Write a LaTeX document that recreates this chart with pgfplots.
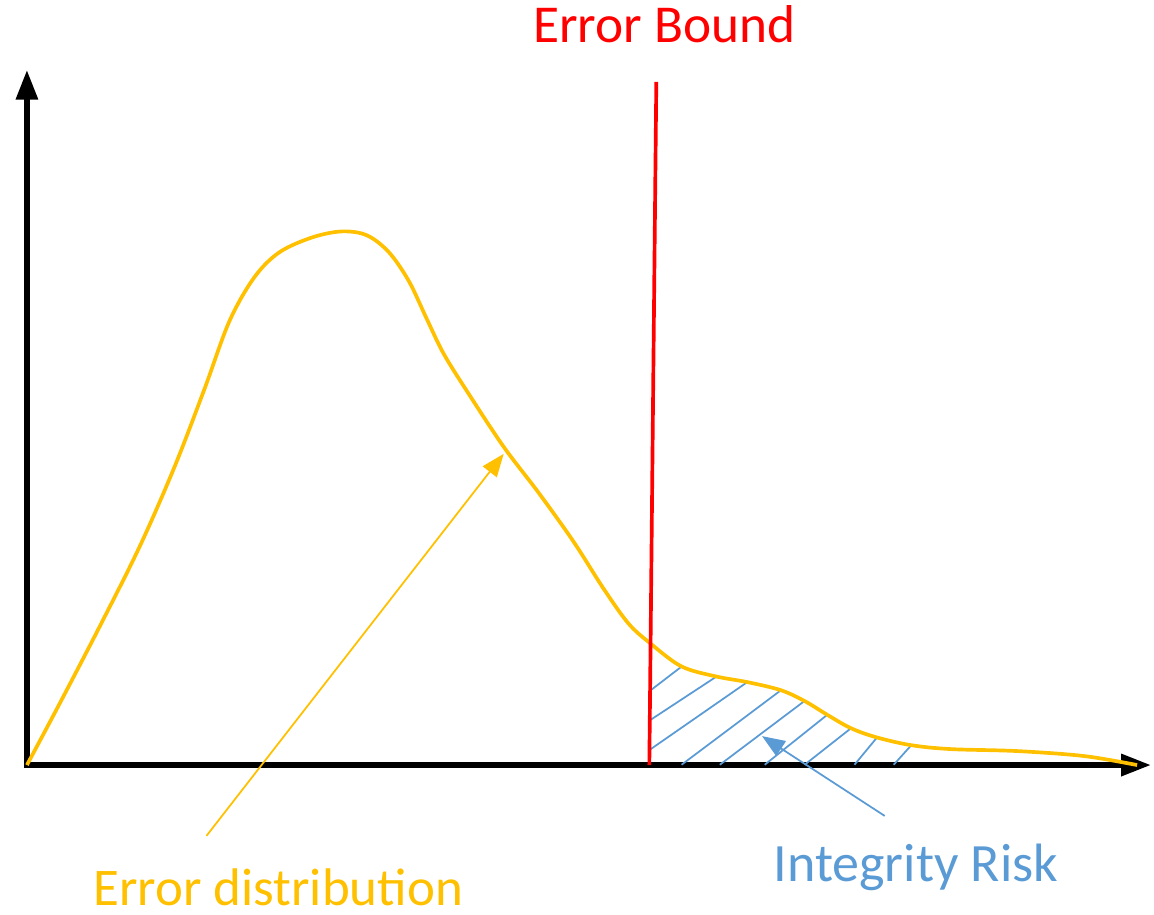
\documentclass[border=0pt]{standalone}
\usepackage{pgfplots}
\pgfplotsset{compat=1.18}
\usepackage{fontspec}
\setmainfont{Carlito}
\usetikzlibrary{arrows.meta}
\definecolor{gold}{HTML}{FFC000}
\definecolor{riskblue}{HTML}{5B9BD5}
\definecolor{boundred}{HTML}{FF0000}
\begin{document}
\begin{tikzpicture}
\begin{axis}[
  width=11.54cm, height=9.17cm, scale only axis,
  xmin=0, xmax=1154, ymin=0, ymax=917, y dir=reverse,
  hide axis, clip=false,
]
% invisible frame to fix the bounding box
\path (axis cs:0,0) rectangle (axis cs:1154,917);
% axes
\draw[line width=1.7pt, -{Triangle[length=8.5pt,width=6pt]}] (axis cs:27,767) -- (axis cs:27,70);
\draw[line width=1.7pt, -{Triangle[length=8.5pt,width=6pt]}] (axis cs:24,767) -- (axis cs:1154,767);
% hatch lines
\addplot[riskblue, line width=0.5pt] coordinates {(650.7,693.3) (683.3,668.3)};
\addplot[riskblue, line width=0.5pt] coordinates {(650.7,722.7) (718.3,678.3)};
\addplot[riskblue, line width=0.5pt] coordinates {(650,752.7) (750,683.3)};
\addplot[riskblue, line width=0.5pt] coordinates {(683.3,766.7) (783.3,691.7)};
\addplot[riskblue, line width=0.5pt] coordinates {(721.7,766.7) (806.7,702.7)};
\addplot[riskblue, line width=0.5pt] coordinates {(766.7,766.7) (829.3,716.7)};
\addplot[riskblue, line width=0.5pt] coordinates {(806.7,766.7) (853.3,730)};
\addplot[riskblue, line width=0.5pt] coordinates {(856.7,766.7) (879.3,739.3)};
\addplot[riskblue, line width=0.5pt] coordinates {(896,766.7) (914,746.7)};
% error distribution curve
\addplot[gold, line width=1.05pt, smooth, tension=0.55] coordinates {
(27,767) (60,705) (100,628) (140,548) (175,468) (205,390) (230,322) (255,278)
(280,253) (313,238) (343,232) (368,236) (390,253) (410,282) (428,320)
(445,355) (470,395) (505,448) (540,494) (575,543) (605,590) (630,625) (652,645)
(683,668) (717,678) (750,684) (783,692) (807,703) (830,717) (853,730) (878,739)
(913,747) (953,751) (1020,753) (1087,758) (1140,767)};
% error bound
\addplot[boundred, line width=1.05pt] coordinates {(651,767) (658,82)};
% annotation arrows
\addplot[gold, line width=0.5pt, -{Triangle[length=6.5pt,width=5pt]}] coordinates {(207,838) (505,455)};
\addplot[riskblue, line width=0.5pt, -{Triangle[length=6.5pt,width=5pt]}] coordinates {(887,818) (764,738)};
% labels
\node[anchor=base west, inner sep=0pt, text=boundred, font=\fontsize{15.2pt}{18pt}\selectfont] at (axis cs:534,43) {Error Bound};
\node[anchor=base west, inner sep=0pt, text=gold, font=\fontsize{15.1pt}{18pt}\selectfont] at (axis cs:93,908) {Error distribution};
\node[anchor=base west, inner sep=0pt, text=riskblue, font=\fontsize{15.4pt}{18pt}\selectfont] at (axis cs:775,884) {Integrity Risk};
\end{axis}
\end{tikzpicture}
\end{document}
